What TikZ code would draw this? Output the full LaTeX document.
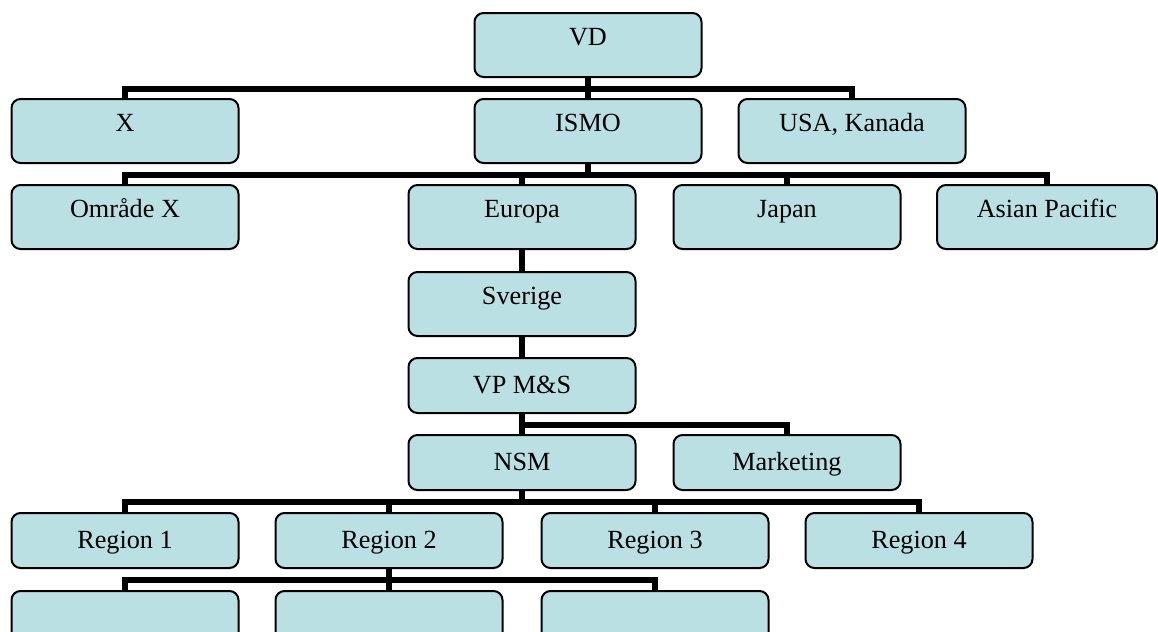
\documentclass[tikz,border=0pt]{standalone}
\usepackage{fontspec}
\setmainfont{Liberation Serif}
\definecolor{unitfill}{RGB}{187,224,227}
\tikzset{
  unit/.style={draw=black,line width=1pt,fill=unitfill,rounded corners=4.5pt,anchor=north,
    minimum width=113.5pt,inner xsep=0pt,inner ysep=0pt,font=\fontsize{13.1}{15}\selectfont},
  tall/.style={unit,text height=16pt,text depth=16pt},
  low/.style={unit,text height=17.5pt,text depth=10pt},
  bus/.style={line width=2.75pt,to path={(\tikztostart.south) -- ++(0,11) -| (\tikztotarget.north)}}
}
\begin{document}
\begin{tikzpicture}[x=0.5pt,y=-0.5pt]
\useasboundingbox (0,0) rectangle (1158,632);
\node[tall] (vd) at (588,12) {VD};
\node[tall] (x) at (125,98) {X};
\node[tall] (ismo) at (588,98) {ISMO};
\node[tall] (usa) at (852,98) {USA, Kanada};
\node[tall] (omx) at (125,184) {Område X};
\node[tall] (europa) at (522,184) {Europa};
\node[tall] (japan) at (787,184) {Japan};
\node[tall,minimum width=110pt] (asia) at (1047,184) {Asian Pacific};
\node[tall] (sverige) at (522,271) {Sverige};
\node[low] (vpms) at (522,357) {VP M\&S};
\node[low] (nsm) at (522,434) {NSM};
\node[low] (mkt) at (787,434) {Marketing};
\node[low] (reg1) at (125,512) {Region 1};
\node[low] (reg2) at (389,512) {Region 2};
\node[low] (reg3) at (655,512) {Region 3};
\node[low] (reg4) at (919,512) {Region 4};
\node[low] (sub1) at (125,590) {};
\node[low] (sub2) at (389,590) {};
\node[low] (sub3) at (655,590) {};
% connectors
\path (vd) edge[bus] (x) edge[bus] (ismo) edge[bus] (usa);
\path (ismo) edge[bus] (omx) edge[bus] (europa) edge[bus] (japan) edge[bus] (asia);
\path (europa) edge[bus] (sverige);
\path (sverige) edge[bus] (vpms);
\path (vpms) edge[bus] (nsm) edge[bus] (mkt);
\path (nsm) edge[bus] (reg1) edge[bus] (reg2) edge[bus] (reg3) edge[bus] (reg4);
\path (reg2) edge[bus] (sub1) edge[bus] (sub2) edge[bus] (sub3);
\end{tikzpicture}
\end{document}
